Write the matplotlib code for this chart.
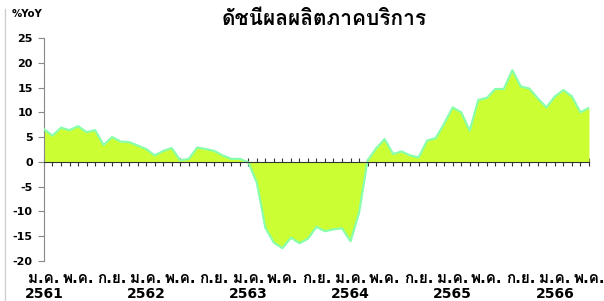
import numpy as np
import matplotlib
matplotlib.use('Agg')
import matplotlib.pyplot as plt
from matplotlib import font_manager
from fontTools.ttLib import TTFont

# ข้อมูลรายเดือน ม.ค. 2561 - พ.ค. 2566 (%YoY)
values = [6.6, 5.3, 6.9, 6.4, 7.2, 6.0, 6.4, 3.4, 5.0, 4.1, 4.0, 3.3,
          2.6, 1.3, 2.2, 2.8, 0.3, 0.6, 2.9, 2.6, 2.2, 1.3, 0.6, 0.6,
          -0.1, -4.2, -13.3, -16.3, -17.4, -15.3, -16.4, -15.5, -13.1, -14.0, -13.6, -13.4,
          -16.0, -10.3, 0.3, 2.7, 4.6, 1.6, 2.1, 1.3, 0.9, 4.3, 4.8, 7.7,
          11.0, 10.0, 6.3, 12.5, 12.9, 14.7, 14.7, 18.5, 15.2, 14.8, 12.8, 11.0,
          13.2, 14.5, 13.2, 10.0, 10.9]
month_names = ['ม.ค.', 'พ.ค.', 'ก.ย.']
years = ['2561', '2562', '2563', '2564', '2565', '2566']
title = 'ดัชนีผลผลิตภาคบริการ'


def find_thai_font():
    # หาฟอนต์ที่มีอักษรไทย
    for f in font_manager.fontManager.ttflist:
        try:
            cmap = TTFont(f.fname, fontNumber=0, lazy=True).getBestCmap()
        except Exception:
            continue
        if cmap and 0x0E14 in cmap and 0x0E31 in cmap:
            return f.name
    return 'DejaVu Sans'


thai = find_thai_font()
# ตัวเลขใช้ DejaVu, อักษรไทยใช้ฟอนต์ไทย
plt.rcParams['font.family'] = ['DejaVu Sans', thai]
plt.rcParams['axes.unicode_minus'] = False

x = np.arange(len(values))
y = np.array(values)

fig = plt.figure(figsize=(6.04, 3.01), dpi=100)
ax = fig.add_axes([0.0728, 0.1329, 0.9023, 0.7409])

ax.fill_between(x, y, 0, color='#ccff33', lw=0, zorder=2)
ax.plot(x, y, color='#88ffaa', lw=1.6, zorder=3)

ax.set_xlim(0, len(values) - 1)
ax.set_ylim(-20, 25)
ax.set_yticks(np.arange(-20, 26, 5))
ax.tick_params(axis='y', labelsize=8, length=4, color='#888888', pad=4)
for lab in ax.get_yticklabels():
    lab.set_fontweight('bold')

# แกน x ที่ระดับ 0
ax.spines['bottom'].set_position(('data', 0))
ax.spines['bottom'].set_color('#333333')
ax.spines['bottom'].set_zorder(4)
ax.set_xticks(x)
ax.tick_params(axis='x', direction='inout', length=6, width=0.8,
               color='#333333', labelbottom=False)
for s in ['top', 'right']:
    ax.spines[s].set_visible(False)
ax.spines['left'].set_color('#888888')

# ป้ายเดือน/ปี
trans = ax.get_xaxis_transform()
for i in range(0, len(values), 4):
    ax.text(i, -0.045, month_names[(i // 4) % 3], transform=trans,
            ha='center', va='top', fontsize=11, fontweight='bold')
for k, yr in enumerate(years):
    ax.text(k * 12, -0.165, yr, transform=trans, ha='center', va='baseline',
            fontsize=10, fontweight='bold')

fig.text(0.02, 0.955, '%YoY', fontsize=7.3, fontweight='bold', va='center')
fig.text(0.537, 0.938, title, fontsize=15, fontweight='bold',
         ha='center', va='center')
fig.add_artist(plt.Line2D([0.009, 0.009], [0.0, 0.97], color='#d0d0d0',
                          lw=1, transform=fig.transFigure))

fig.savefig('out.png', dpi=100)
